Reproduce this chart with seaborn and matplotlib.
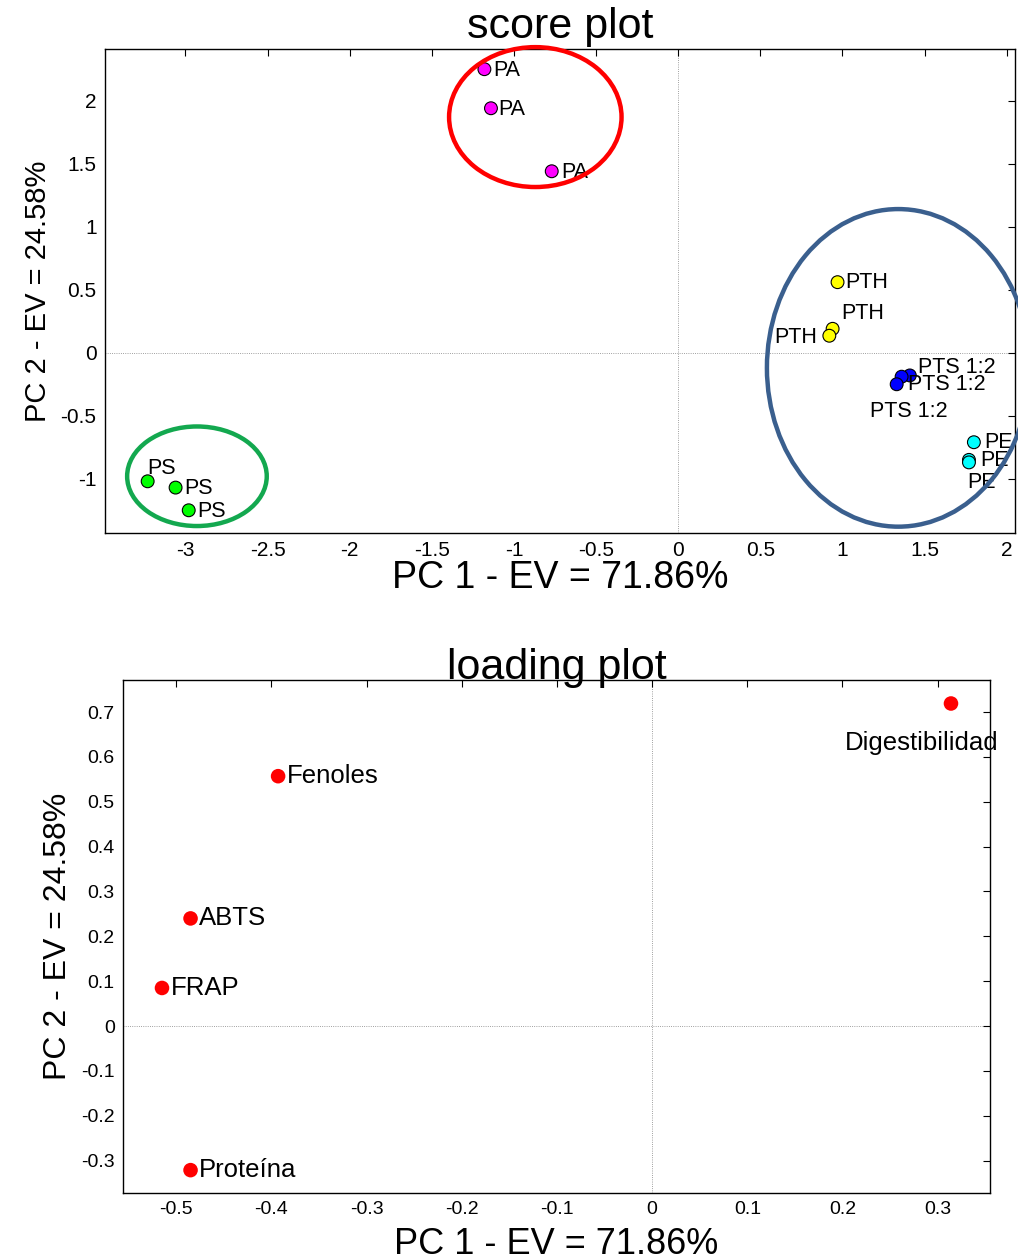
import numpy as np
import pandas as pd
import matplotlib
matplotlib.use("Agg")
import matplotlib.pyplot as plt
from matplotlib.patches import Ellipse
import seaborn as sns

sns.set_theme(style="white")
plt.rcParams['font.family'] = ['Liberation Sans', 'DejaVu Sans']
plt.rcParams['text.color'] = 'black'
plt.rcParams['axes.labelcolor'] = 'black'
plt.rcParams['axes.titlecolor'] = 'black'

# ---------------- data ----------------
score_groups = ["PA", "PA", "PA", "PS", "PS", "PS", "PTH", "PTH", "PTH",
                "PTS 1:2", "PTS 1:2", "PTS 1:2", "PE", "PE", "PE"]
score_pc1 = [-1.18, -1.14, -0.77, -3.23, -3.06, -2.98, 0.97, 0.94, 0.92,
             1.41, 1.36, 1.33, 1.80, 1.77, 1.77]
score_pc2 = [2.25, 1.94, 1.44, -1.02, -1.07, -1.25, 0.56, 0.19, 0.135,
             -0.18, -0.19, -0.25, -0.71, -0.85, -0.87]
group_colors = {"PA": "#ff00ff", "PS": "#00ff00", "PTH": "#ffff00",
                "PTS 1:2": "#0000ff", "PE": "#00ffff"}

load_vars = ["Digestibilidad", "Fenoles", "ABTS", "FRAP", "Proteína"]
load_pc1 = [0.314, -0.393, -0.485, -0.515, -0.485]
load_pc2 = [0.719, 0.557, 0.240, 0.085, -0.321]

score_xticks = [-3, -2.5, -2, -1.5, -1, -0.5, 0, 0.5, 1, 1.5, 2]
score_yticks = [-1, -0.5, 0, 0.5, 1, 1.5, 2]
load_xticks = [-0.5, -0.4, -0.3, -0.2, -0.1, 0, 0.1, 0.2, 0.3]
load_yticks = [-0.3, -0.2, -0.1, 0, 0.1, 0.2, 0.3, 0.4, 0.5, 0.6, 0.7]

# group ellipses: center x, center y, width, height, colour
ell_cx = [-0.87, -2.93, 1.34]
ell_cy = [1.87, -0.98, -0.12]
ell_w = [1.05, 0.85, 1.60]
ell_h = [1.11, 0.79, 2.52]
ell_col = ["#ff0000", "#13a84f", "#3a5f8e"]

# label offsets (pixels) and alignment
score_off = [(9, -1), (7, -1), (10, -1), (0, 13), (9, -1), (9, -1),
             (8, 0), (9, 15), (-12, -2), (8, 8), (6, -8), (-27, -27),
             (10, 0), (11, -1), (-2, -20)]
score_ha = ["left"] * 8 + ["right"] + ["left"] * 6
load_off = [(-29, -40), (9, 0), (8, 0), (9, 0), (8, 0)]
load_ha = ["center", "left", "left", "left", "left"]


def fmt(v):
    return "%g" % v


def style_axes(ax, xticks, yticks, lsize):
    ax.set_xticks(xticks)
    ax.set_yticks(yticks)
    ax.set_xticklabels([fmt(v) for v in xticks])
    ax.set_yticklabels([fmt(v) for v in yticks])
    ax.tick_params(direction="in", length=5, width=0.8, top=True, right=True,
                   labelsize=lsize, colors="black", pad=6)
    for sp in ax.spines.values():
        sp.set_color("black")
        sp.set_linewidth(1.0)
        sp.set_visible(True)
    ax.axhline(0, color="#808080", lw=0.6, ls=":", zorder=0)
    ax.axvline(0, color="#808080", lw=0.6, ls=":", zorder=0)


fig = plt.figure(figsize=(10.18, 12.57), dpi=100)
fig.patch.set_facecolor("white")

# ---------------- score plot ----------------
ax1 = fig.add_axes([0.1031, 0.576, 0.8939, 0.385])
sdf = pd.DataFrame({"PC1": score_pc1, "PC2": score_pc2, "grp": score_groups})
sns.scatterplot(data=sdf, x="PC1", y="PC2", hue="grp", palette=group_colors,
                s=85, edgecolor="black", linewidth=0.8, legend=False, ax=ax1,
                zorder=3)
for x, y, t, (dx, dy), ha in zip(score_pc1, score_pc2, score_groups,
                                 score_off, score_ha):
    ax1.annotate(t, (x, y), xytext=(dx, dy), textcoords="offset pixels",
                 ha=ha, va="center", fontsize=15.5, color="black", zorder=4)
for cx, cy, w, h, c in zip(ell_cx, ell_cy, ell_w, ell_h, ell_col):
    ax1.add_patch(Ellipse((cx, cy), w, h, fill=False, edgecolor=c, lw=3.2,
                          clip_on=False, zorder=5))
ax1.set_xlim(-3.49, 2.05)
ax1.set_ylim(-1.43, 2.41)
style_axes(ax1, score_xticks, score_yticks, 15)
ax1.set_title("score plot", fontsize=31, pad=8)
ax1.set_xlabel("PC 1 - EV = 71.86%", fontsize=27, labelpad=0)
ax1.set_ylabel("PC 2 - EV = 24.58%", fontsize=21, labelpad=6)

# ---------------- loading plot ----------------
ax2 = fig.add_axes([0.1208, 0.0509, 0.8517, 0.408])
ldf = pd.DataFrame({"PC1": load_pc1, "PC2": load_pc2, "var": load_vars})
sns.scatterplot(data=ldf, x="PC1", y="PC2", color="#ff0000", s=110,
                edgecolor="none", legend=False, ax=ax2, zorder=3)
for x, y, t, (dx, dy), ha in zip(load_pc1, load_pc2, load_vars,
                                 load_off, load_ha):
    ax2.annotate(t, (x, y), xytext=(dx, dy), textcoords="offset pixels",
                 ha=ha, va="center", fontsize=18.5, color="black", zorder=4)
ax2.set_xlim(-0.556, 0.355)
ax2.set_ylim(-0.372, 0.771)
style_axes(ax2, load_xticks, load_yticks, 14)
ax2.set_title("loading plot", fontsize=31, pad=1)
ax2.set_xlabel("PC 1 - EV = 71.86%", fontsize=26, labelpad=6)
ax2.set_ylabel("PC 2 - EV = 24.58%", fontsize=23, labelpad=6)

fig.savefig("out.png", dpi=100, facecolor="white")
